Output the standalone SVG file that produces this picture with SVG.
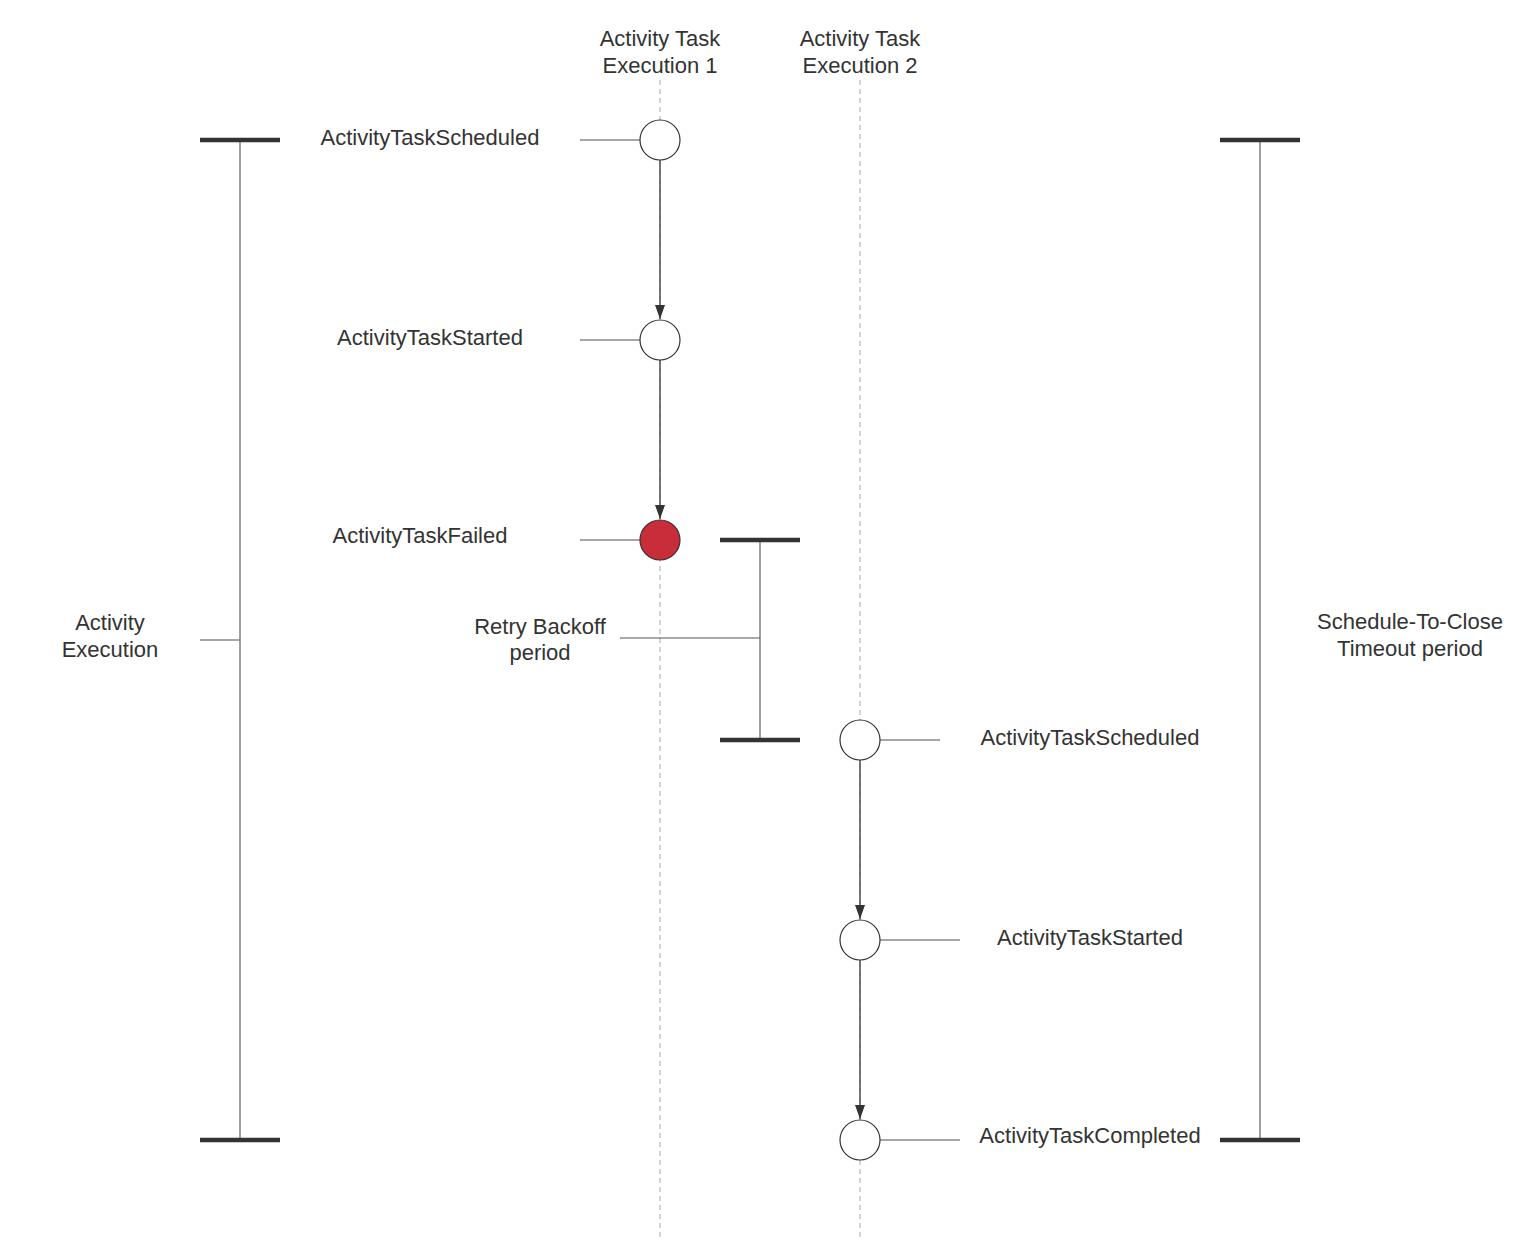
<svg xmlns="http://www.w3.org/2000/svg" width="1540" height="1246" viewBox="0 0 1540 1246">
<defs>
<style>
text{font-family:"Liberation Sans",Arial,sans-serif;font-size:22px;fill:#333;text-anchor:middle}
.life{stroke:#c8c8c8;stroke-width:1.5;stroke-dasharray:5,4;fill:none}
.bar{stroke:#333;stroke-width:4.5;fill:none}
.vert{stroke:#888;stroke-width:1.6;fill:none}
.tick{stroke:#888;stroke-width:1.6;fill:none}
.arrow{stroke:#555;stroke-width:1.6;fill:none;marker-end:url(#ah)}
.ev{fill:#fff;stroke:#333;stroke-width:1.2}
.fail{fill:#c92d3a;stroke:#333;stroke-width:1.2}
</style>
<marker id="ah" viewBox="0 0 14 10" refX="14" refY="5" markerWidth="14" markerHeight="10" markerUnits="userSpaceOnUse" orient="auto">
<path d="M0,0 L14,5 L0,10 z" fill="#333"/>
</marker>
</defs>
<rect width="1540" height="1246" fill="#fff"/>
<g id="lifelines">
<line class="life" x1="660" y1="80" x2="660" y2="1240"/>
<line class="life" x1="860" y1="80" x2="860" y2="1240"/>
</g>
<g id="headers">
<text x="660" y="46">Activity Task</text>
<text x="660" y="73">Execution 1</text>
<text x="860" y="46">Activity Task</text>
<text x="860" y="73">Execution 2</text>
</g>
<g id="activity-execution">
<line class="vert" x1="240" y1="140" x2="240" y2="1140"/>
<line class="tick" x1="200" y1="640" x2="240" y2="640"/>
<line class="bar" x1="200" y1="140" x2="280" y2="140"/>
<line class="bar" x1="200" y1="1140" x2="280" y2="1140"/>
<text x="110" y="630">Activity</text>
<text x="110" y="657">Execution</text>
</g>
<g id="schedule-to-close">
<line class="vert" x1="1260" y1="140" x2="1260" y2="1140"/>
<line class="bar" x1="1220" y1="140" x2="1300" y2="140"/>
<line class="bar" x1="1220" y1="1140" x2="1300" y2="1140"/>
<text x="1410" y="629">Schedule-To-Close</text>
<text x="1410" y="656">Timeout period</text>
</g>
<g id="retry-backoff">
<line class="vert" x1="760" y1="540" x2="760" y2="740"/>
<line x1="620" y1="638" x2="760" y2="638" stroke="#555" stroke-width="1.2"/>
<line class="bar" x1="720" y1="540" x2="800" y2="540"/>
<line class="bar" x1="720" y1="740" x2="800" y2="740"/>
<text x="540" y="634">Retry Backoff</text>
<text x="540" y="660">period</text>
</g>
<g id="connectors">
<line class="arrow" x1="660" y1="160" x2="660" y2="319"/>
<line class="arrow" x1="660" y1="360" x2="660" y2="519"/>
<line class="arrow" x1="860" y1="760" x2="860" y2="919"/>
<line class="arrow" x1="860" y1="960" x2="860" y2="1119"/>
<line class="tick" x1="580" y1="140" x2="640" y2="140"/>
<line class="tick" x1="580" y1="340" x2="640" y2="340"/>
<line class="tick" x1="580" y1="540" x2="640" y2="540"/>
<line class="tick" x1="880" y1="740" x2="940" y2="740"/>
<line class="tick" x1="880" y1="940" x2="960" y2="940"/>
<line class="tick" x1="880" y1="1140" x2="960" y2="1140"/>
</g>
<g id="e1-scheduled">
<circle class="ev" cx="660" cy="140" r="20"/>
<text x="430" y="145">ActivityTaskScheduled</text>
</g>
<g id="e1-started">
<circle class="ev" cx="660" cy="340" r="20"/>
<text x="430" y="345">ActivityTaskStarted</text>
</g>
<g id="e1-failed">
<circle class="fail" cx="660" cy="540" r="20"/>
<text x="420" y="543">ActivityTaskFailed</text>
</g>
<g id="e2-scheduled">
<circle class="ev" cx="860" cy="740" r="20"/>
<text x="1090" y="745">ActivityTaskScheduled</text>
</g>
<g id="e2-started">
<circle class="ev" cx="860" cy="940" r="20"/>
<text x="1090" y="945">ActivityTaskStarted</text>
</g>
<g id="e2-completed">
<circle class="ev" cx="860" cy="1140" r="20"/>
<text x="1090" y="1143">ActivityTaskCompleted</text>
</g>
</svg>
